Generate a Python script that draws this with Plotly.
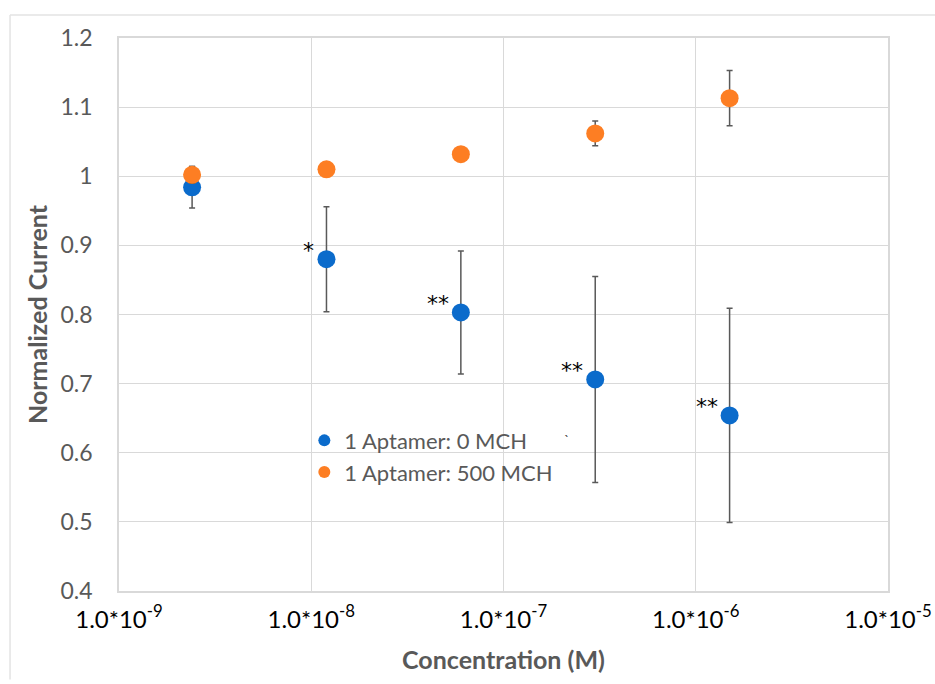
import math
import plotly.graph_objects as go

conc = [2.4e-9, 1.2e-8, 6e-8, 3e-7, 1.5e-6]
aptamer0 = [0.984, 0.880, 0.803, 0.706, 0.654]
aptamer0_err = [0.030, 0.076, 0.089, 0.149, 0.155]
aptamer500 = [1.002, 1.010, 1.032, 1.062, 1.113]
aptamer500_err = [0.012, 0.0, 0.0, 0.018, 0.040]
signif = ["", "*", "**", "**", "**"]
xtick_vals = [1e-9, 1e-8, 1e-7, 1e-6, 1e-5]
xtick_text = ["1.0*10<sup>-9</sup>", "1.0*10<sup>-8</sup>", "1.0*10<sup>-7</sup>",
              "1.0*10<sup>-6</sup>", "1.0*10<sup>-5</sup>"]
ytick_vals = [0.4, 0.5, 0.6, 0.7, 0.8, 0.9, 1.0, 1.1, 1.2]
ytick_text = ["0.4", "0.5", "0.6", "0.7", "0.8", "0.9", "1", "1.1", "1.2"]

BLUE = "#0B6BCB"
ORANGE = "#FD7E23"
ERR = "#595959"
GRID = "#d9d9d9"
FONT = "Lato"

fig = go.Figure()
fig.add_trace(go.Scatter(
    x=conc, y=aptamer0, mode="markers", name="1 Aptamer: 0 MCH",
    marker=dict(color=BLUE, size=18),
    error_y=dict(type="data", array=aptamer0_err, color=ERR, thickness=1.5, width=3),
))
fig.add_trace(go.Scatter(
    x=conc, y=aptamer500, mode="markers", name="1 Aptamer: 500 MCH",
    marker=dict(color=ORANGE, size=18),
    error_y=dict(type="data", array=aptamer500_err, color=ERR, thickness=1.5, width=3),
))

for xv, yv, s in zip(conc, aptamer0, signif):
    if s:
        fig.add_annotation(x=math.log10(xv), y=yv, xref="x", yref="y", text=s, showarrow=False,
                           xanchor="right", yanchor="middle", xshift=-10, yshift=9,
                           font=dict(family="DejaVu Sans", size=22, color="black"))

# stray mark present in the original figure
fig.add_annotation(x=0.582, y=0.255, xref="paper", yref="paper", text="`", showarrow=False,
                   font=dict(family=FONT, size=14, color="#444"))

fig.update_layout(
    width=935, height=684,
    margin=dict(l=119, r=47, t=38, b=93, autoexpand=False),
    paper_bgcolor="white", plot_bgcolor="white",
    font=dict(family=FONT, color="#595959"),
    showlegend=True,
    legend=dict(x=0.241, y=0.31, xanchor="left", yanchor="top",
                font=dict(family=FONT, size=22, color="#595959"),
                bgcolor="rgba(0,0,0,0)", itemsizing="constant", tracegroupgap=0,
                itemwidth=30),
    shapes=[
        dict(type="line", xref="paper", yref="paper", x0=-0.1417, x1=1.07, y0=1.0416, y1=1.0416,
             line=dict(color="#e3e3e3", width=1.5)),
        dict(type="line", xref="paper", yref="paper", x0=-0.1417, x1=-0.1417, y0=-0.16, y1=1.0416,
             line=dict(color="#e3e3e3", width=1.5)),
    ],
)
fig.update_xaxes(
    type="log", range=[-9, -5], tickvals=xtick_vals, ticktext=xtick_text,
    showgrid=True, gridcolor=GRID, gridwidth=1,
    showline=True, linecolor=GRID, linewidth=1.5, mirror=True,
    ticks="", ticklabelstandoff=6, ticklabeloverflow="allow", automargin=False,
    tickfont=dict(family=FONT, size=24, color="black"),
    title=dict(text="<b>Concentration (M)</b>", font=dict(family=FONT, size=25, color="#595959"),
               standoff=20),
    zeroline=False,
)
fig.update_yaxes(
    range=[0.4, 1.2], tickvals=ytick_vals, ticktext=ytick_text,
    showgrid=True, gridcolor=GRID, gridwidth=1,
    showline=True, linecolor=GRID, linewidth=1.5, mirror=True,
    ticks="", ticklabelstandoff=20, automargin=False,
    tickfont=dict(family=FONT, size=23, color="#595959"),
    title=dict(text="<b>Normalized Current</b>", font=dict(family=FONT, size=25, color="#595959"),
               standoff=6),
    zeroline=False,
)

fig.write_html("out.html")
